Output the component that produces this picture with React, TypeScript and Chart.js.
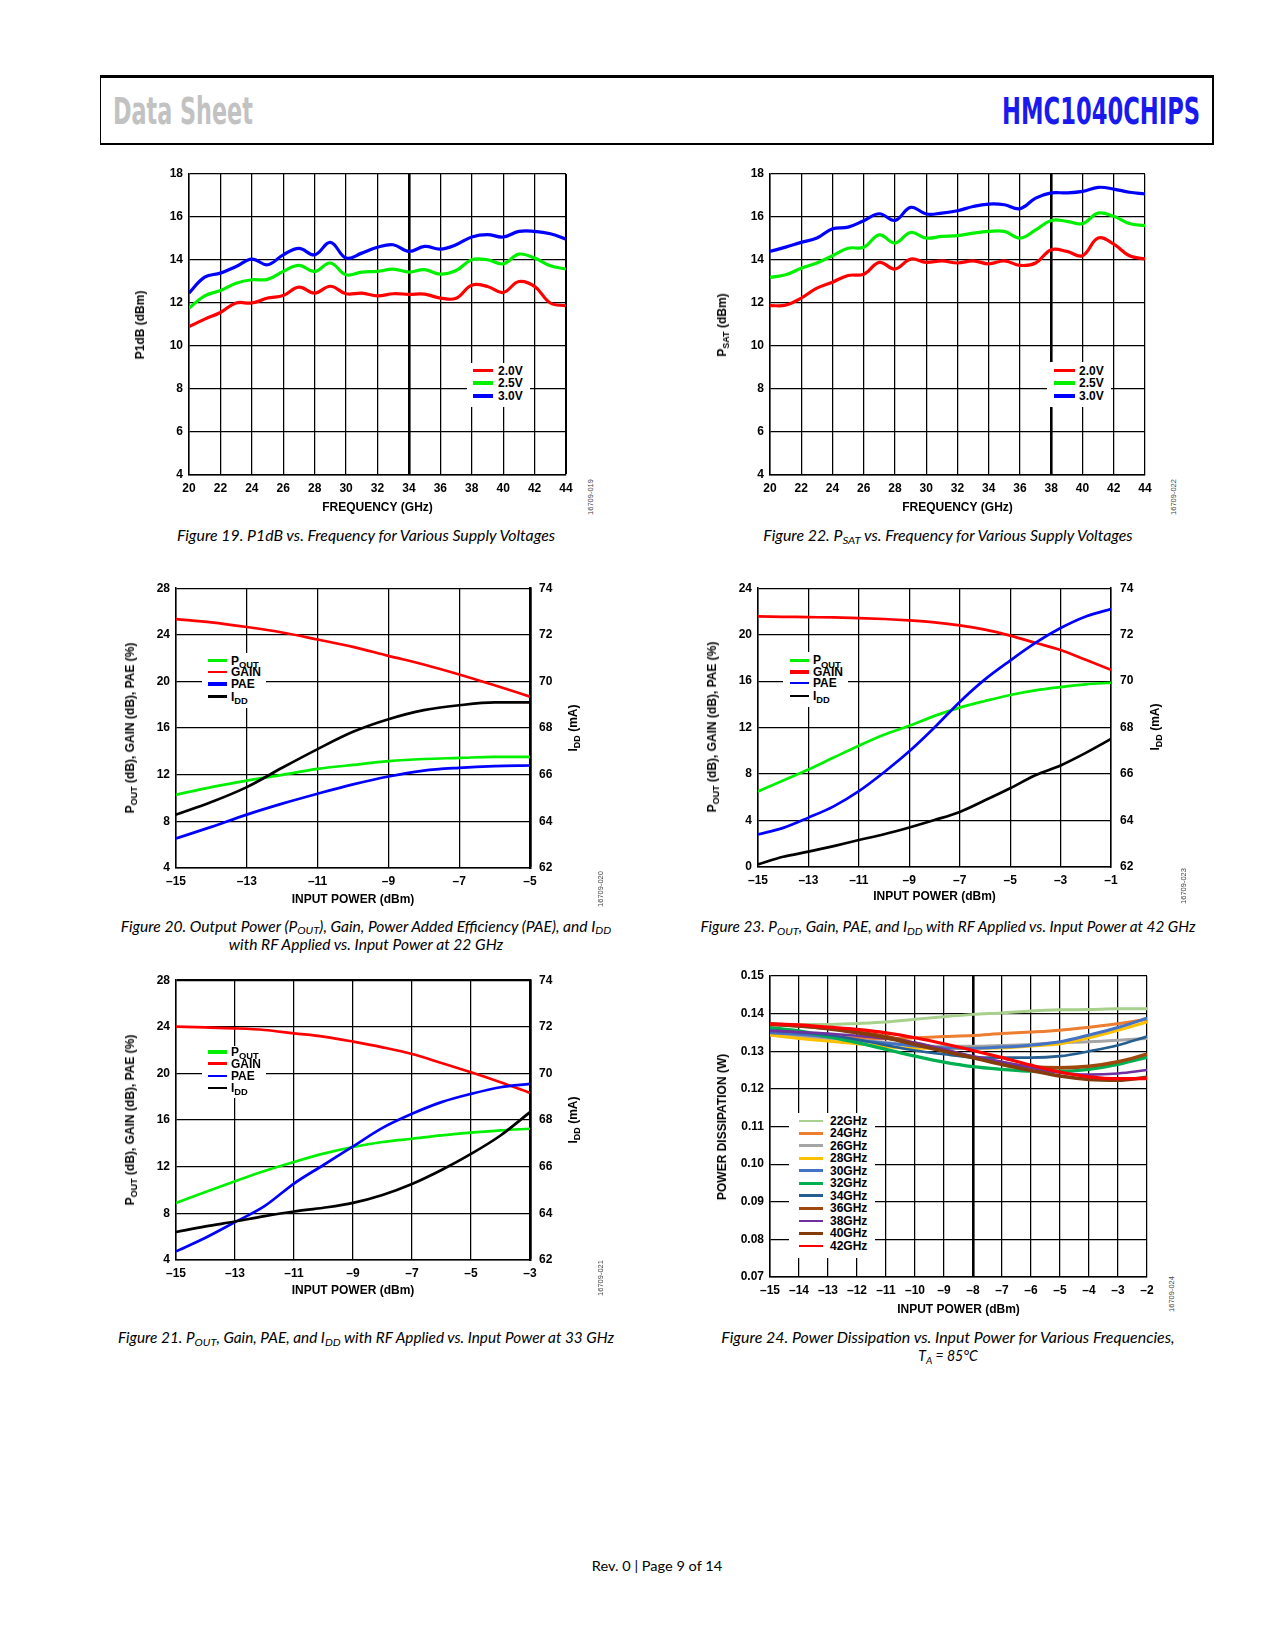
import React, { useEffect, useLayoutEffect, useRef } from "react";
import { Chart, registerables } from "chart.js";

Chart.register(...registerables);

const FONT = '"Liberation Sans", Arial, Helvetica, sans-serif';
Chart.defaults.font.family = FONT;
Chart.defaults.font.size = 12;
Chart.defaults.font.weight = "bold";
Chart.defaults.color = "#000";

// ---------------- DATA ----------------
// Figure 19 / 22: frequency sweeps
const FREQ_GHZ = [20, 21, 22, 23, 24, 25, 26, 27, 28, 29, 30, 31, 32, 33, 34, 35, 36, 37, 38, 39, 40, 41, 42, 43, 44];
const FREQ_TICKS = [20, 22, 24, 26, 28, 30, 32, 34, 36, 38, 40, 42, 44];
const DBM_TICKS = [4, 6, 8, 10, 12, 14, 16, 18];
const VOLT_LABELS = ["2.0V", "2.5V", "3.0V"];

const P1DB_2V0 = [10.9, 11.25, 11.56, 12.0, 12.0, 12.23, 12.35, 12.74, 12.46, 12.78, 12.43, 12.46, 12.33, 12.43, 12.4, 12.41, 12.23, 12.22, 12.83, 12.77, 12.49, 13.0, 12.77, 12.0, 11.87];
const P1DB_2V5 = [11.76, 12.33, 12.58, 12.92, 13.08, 13.1, 13.47, 13.75, 13.47, 13.86, 13.31, 13.44, 13.47, 13.58, 13.44, 13.55, 13.34, 13.51, 14.01, 14.01, 13.82, 14.27, 14.09, 13.73, 13.58];
const P1DB_3V0 = [12.46, 13.2, 13.39, 13.7, 14.04, 13.78, 14.24, 14.54, 14.24, 14.82, 14.09, 14.32, 14.59, 14.71, 14.4, 14.63, 14.51, 14.71, 15.07, 15.18, 15.07, 15.33, 15.33, 15.22, 14.97];

const PSAT_2V0 = [11.88, 11.9, 12.23, 12.69, 12.97, 13.28, 13.34, 13.89, 13.58, 14.04, 13.89, 13.96, 13.86, 13.96, 13.82, 13.96, 13.75, 13.86, 14.48, 14.4, 14.2, 15.02, 14.74, 14.2, 14.05];
const PSAT_2V5 = [13.19, 13.31, 13.62, 13.86, 14.2, 14.55, 14.59, 15.17, 14.79, 15.28, 15.02, 15.1, 15.13, 15.25, 15.33, 15.33, 15.02, 15.4, 15.84, 15.8, 15.69, 16.18, 16.03, 15.7, 15.6];
const PSAT_3V0 = [14.4, 14.6, 14.82, 15.02, 15.45, 15.53, 15.83, 16.15, 15.84, 16.45, 16.14, 16.18, 16.29, 16.49, 16.6, 16.57, 16.39, 16.88, 17.12, 17.12, 17.19, 17.38, 17.3, 17.15, 17.07];

// Figure 20: 22 GHz
const PIN_22 = [-15, -14, -13, -12, -11, -10, -9, -8, -7, -6, -5];
const PIN_22_TICKS = [-15, -13, -11, -9, -7, -5];
const GAIN_22 = [25.35, 25.07, 24.67, 24.2, 23.6, 22.97, 22.2, 21.46, 20.6, 19.67, 18.7];
const POUT_22 = [10.28, 10.94, 11.5, 11.99, 12.5, 12.84, 13.16, 13.35, 13.44, 13.53, 13.53];
const PAE_22 = [6.53, 7.53, 8.58, 9.52, 10.37, 11.17, 11.85, 12.36, 12.59, 12.73, 12.79];
const IDD_22 = [64.29, 64.83, 65.47, 66.3, 67.1, 67.84, 68.38, 68.77, 68.98, 69.1, 69.1];

// Figure 23: 42 GHz
const PIN_42 = [-15, -14, -13, -12, -11, -10, -9, -8, -7, -6, -5, -4, -3, -2, -1];
const PIN_42_TICKS = [-15, -13, -11, -9, -7, -5, -3, -1];
const GAIN_42 = [21.57, 21.54, 21.51, 21.48, 21.43, 21.35, 21.23, 21.06, 20.8, 20.43, 19.92, 19.3, 18.68, 17.84, 16.97];
const POUT_42 = [6.5, 7.45, 8.39, 9.42, 10.44, 11.38, 12.15, 13.01, 13.72, 14.29, 14.81, 15.21, 15.49, 15.72, 15.86];
const PAE_42 = [2.8, 3.37, 4.25, 5.22, 6.53, 8.16, 9.96, 12.01, 14.21, 16.15, 17.77, 19.29, 20.57, 21.57, 22.2];
const IDD_42 = [62.11, 62.44, 62.66, 62.9, 63.16, 63.41, 63.7, 64.02, 64.37, 64.87, 65.39, 65.95, 66.37, 66.91, 67.51];

// Figure 21: 33 GHz
const PIN_33 = [-15, -14, -13, -12, -11, -10, -9, -8, -7, -6, -5, -4, -3];
const PIN_33_TICKS = [-15, -13, -11, -9, -7, -5, -3];
const GAIN_33 = [24.01, 23.95, 23.87, 23.73, 23.44, 23.16, 22.73, 22.24, 21.67, 20.9, 20.1, 19.25, 18.34];
const POUT_33 = [8.9, 9.84, 10.76, 11.64, 12.41, 13.12, 13.69, 14.12, 14.4, 14.69, 14.92, 15.12, 15.26];
const PAE_33 = [4.74, 5.91, 7.25, 8.62, 10.56, 12.15, 13.74, 15.33, 16.54, 17.54, 18.25, 18.82, 19.11];
const IDD_33 = [63.2, 63.44, 63.65, 63.88, 64.08, 64.24, 64.45, 64.79, 65.26, 65.86, 66.55, 67.34, 68.34];

const LEFT_28_TICKS = [4, 8, 12, 16, 20, 24, 28];
const LEFT_24_TICKS = [0, 4, 8, 12, 16, 20, 24];
const IDD_TICKS = [62, 64, 66, 68, 70, 72, 74];
const PIN_LEGEND = [["P", "OUT"], ["GAIN", ""], ["PAE", ""], ["I", "DD"]];

// Figure 24: power dissipation, TA = 85 C
const PIN_PD = [-15, -14, -13, -12, -11, -10, -9, -8, -7, -6, -5, -4, -3, -2];
const PIN_PD_TICKS = [-15, -14, -13, -12, -11, -10, -9, -8, -7, -6, -5, -4, -3, -2];
const PD_TICKS = [0.07, 0.08, 0.09, 0.1, 0.11, 0.12, 0.13, 0.14, 0.15];
const PD_LABELS = ["22GHz", "24GHz", "26GHz", "28GHz", "30GHz", "32GHz", "34GHz", "36GHz", "38GHz", "40GHz", "42GHz"];
const PD_22 = [0.1371, 0.1371, 0.1371, 0.1374, 0.1378, 0.1385, 0.1392, 0.1398, 0.1402, 0.1407, 0.141, 0.1411, 0.1413, 0.1413];
const PD_24 = [0.1345, 0.1342, 0.1338, 0.1335, 0.1333, 0.1336, 0.1339, 0.1342, 0.1347, 0.1351, 0.1356, 0.1364, 0.1373, 0.1385];
const PD_26 = [0.1343, 0.1338, 0.1334, 0.1329, 0.1323, 0.1315, 0.1313, 0.1313, 0.1315, 0.1318, 0.1323, 0.1325, 0.1329, 0.1334];
const PD_28 = [0.1343, 0.1334, 0.1327, 0.132, 0.1312, 0.1308, 0.1308, 0.1308, 0.1309, 0.1314, 0.132, 0.1336, 0.1356, 0.1378];
const PD_30 = [0.1349, 0.1345, 0.1338, 0.1329, 0.1321, 0.1314, 0.1309, 0.1308, 0.1311, 0.1316, 0.1325, 0.1343, 0.1363, 0.1388];
const PD_32 = [0.1363, 0.1354, 0.1339, 0.1323, 0.1305, 0.1287, 0.1271, 0.1259, 0.1252, 0.1247, 0.1247, 0.1252, 0.1265, 0.1284];
const PD_34 = [0.1356, 0.135, 0.1343, 0.1331, 0.1316, 0.1302, 0.1292, 0.1284, 0.1283, 0.1283, 0.1287, 0.13, 0.1316, 0.1339];
const PD_36 = [0.1371, 0.1367, 0.1361, 0.1351, 0.1339, 0.1321, 0.1303, 0.1284, 0.1269, 0.1259, 0.1256, 0.126, 0.1272, 0.1292];
const PD_38 = [0.1354, 0.1351, 0.1347, 0.1341, 0.1334, 0.1323, 0.1305, 0.1287, 0.1272, 0.1256, 0.1243, 0.1238, 0.1241, 0.125];
const PD_40 = [0.1373, 0.1367, 0.136, 0.1349, 0.1336, 0.1318, 0.13, 0.1283, 0.1265, 0.1249, 0.1234, 0.1225, 0.1223, 0.1231];
const PD_42 = [0.1373, 0.137, 0.1364, 0.1358, 0.1349, 0.1336, 0.132, 0.1302, 0.1283, 0.1263, 0.1245, 0.1232, 0.1227, 0.1227];

// ---------------- STYLE ----------------
const RED = "#ff0000";
const GREEN = "#00f000";
const BLUE = "#0000ff";
const BLACK = "#000000";
const PD_COLORS = ["#a9d18e", "#ed7d31", "#a5a5a5", "#ffc000", "#4472c4", "#00b050", "#255e91", "#9e480e", "#7030a0", "#843c0c", "#ff0000"];
const PD_LINE_W = [3, 3, 3, 3, 3, 3.2, 2.6, 3.6, 2.6, 3.6, 3.2];
const PD_LEG_W = [2, 3.4, 3.4, 3.4, 2.8, 3.4, 2.8, 3.4, 2.8, 2.8, 2];

const LY = 45;
const PT = 15;
const GW = 1.25;

type Series = { x: number[]; y: number[]; color: string; width: number; axis?: string };
type Spec = {
  L: number; T: number; R: number; B: number; Bb: number; Rr: number;
  xMin: number; xMax: number; xTicks: number[]; xTitle: string;
  yMin: number; yMax: number; yTicks: number[]; yDec?: number;
  y1?: { min: number; max: number; ticks: number[] };
  thickX?: number; rightW?: number; topW?: number; mono?: boolean;
  series: Series[];
};

const near = (a: number, b: number) => Math.abs(a - b) < 1e-6;
const fmtSigned = (v: number) => (v < 0 ? "\u2013" + Math.abs(v) : String(v));
const setTicks = (vals: number[]) => (sc: any) => {
  sc.ticks = vals.map((v) => ({ value: v }));
};

function buildConfig(s: Spec): any {
  const tickFont = { family: FONT, size: 12, weight: "bold" };
  const scales: any = {
    x: {
      type: "linear",
      min: s.xMin,
      max: s.xMax,
      afterBuildTicks: setTicks(s.xTicks),
      afterFit: (sc: any) => {
        sc.height = s.Bb;
      },
      ticks: { padding: 6, autoSkip: false, maxRotation: 0, minRotation: 0, color: "#000", font: tickFont, callback: (v: any) => fmtSigned(Number(v)) },
      grid: {
        color: "#000",
        drawTicks: false,
        lineWidth: (c: any) => {
          const v = c.tick ? c.tick.value : NaN;
          if (s.thickX !== undefined && near(v, s.thickX)) return 2.6;
          if (near(v, s.xMax)) return s.rightW ?? GW;
          return GW;
        },
      },
      border: { display: true, color: "#000", width: 1.5 },
      title: { display: true, text: s.xTitle, color: "#000", padding: 0, font: { family: FONT, size: 12, weight: "bold" } },
    },
    y: {
      type: "linear",
      position: "left",
      min: s.yMin,
      max: s.yMax,
      afterBuildTicks: setTicks(s.yTicks),
      afterFit: (sc: any) => {
        sc.width = LY;
      },
      ticks: { padding: 6, autoSkip: false, color: "#000", font: tickFont, callback: (v: any) => (s.yDec ? Number(v).toFixed(s.yDec) : String(v)) },
      grid: {
        color: "#000",
        drawTicks: false,
        lineWidth: (c: any) => {
          const v = c.tick ? c.tick.value : NaN;
          if (near(v, s.yMax)) return s.topW ?? GW;
          return GW;
        },
      },
      border: { display: true, color: "#000", width: 1.5 },
    },
  };
  if (s.y1) {
    scales.y1 = {
      type: "linear",
      position: "right",
      min: s.y1.min,
      max: s.y1.max,
      afterBuildTicks: setTicks(s.y1.ticks),
      afterFit: (sc: any) => {
        sc.width = s.Rr;
      },
      ticks: { padding: 9, autoSkip: false, color: "#000", font: tickFont, callback: (v: any) => String(v) },
      grid: { display: false, drawTicks: false },
      border: { display: true, color: "#000", width: s.rightW ?? 1.5 },
    };
  }
  return {
    type: "line",
    data: {
      datasets: s.series.map((se, i) => ({
        data: se.x.map((x, j) => ({ x, y: se.y[j] })),
        borderColor: se.color,
        backgroundColor: se.color,
        borderWidth: se.width,
        pointRadius: 0,
        tension: 0.4,
        cubicInterpolationMode: s.mono ? "monotone" : "default",
        fill: false,
        yAxisID: se.axis || "y",
        order: -i,
      })),
    },
    options: {
      responsive: false,
      animation: false,
      events: [],
      layout: { padding: { top: PT, right: s.y1 ? 0 : s.Rr, bottom: 0, left: 0 } },
      plugins: { legend: { display: false }, tooltip: { enabled: false }, title: { display: false } },
      scales,
    },
  };
}

function PlotCanvas({ spec }: { spec: Spec }) {
  const ref = useRef<HTMLCanvasElement>(null);
  const W = spec.R - spec.L + LY + spec.Rr;
  const H = spec.B - spec.T + PT + spec.Bb;
  useEffect(() => {
    const chart = new Chart(ref.current as HTMLCanvasElement, buildConfig(spec));
    return () => chart.destroy();
  }, []);
  return <canvas ref={ref} width={W} height={H} style={{ position: "absolute", left: spec.L - LY, top: spec.T - PT, width: W, height: H }} />;
}

// ---------------- CHART SPECS ----------------
const SPEC19: Spec = {
  L: 189, T: 174, R: 566, B: 475, Bb: 40, Rr: 15,
  xMin: 20, xMax: 44, xTicks: FREQ_TICKS, xTitle: "FREQUENCY (GHz)",
  yMin: 4, yMax: 18, yTicks: DBM_TICKS, thickX: 34, rightW: 2,
  series: [
    { x: FREQ_GHZ, y: P1DB_2V0, color: RED, width: 3.2 },
    { x: FREQ_GHZ, y: P1DB_2V5, color: GREEN, width: 3.2 },
    { x: FREQ_GHZ, y: P1DB_3V0, color: BLUE, width: 3.2 },
  ],
};
const SPEC22: Spec = {
  L: 770, T: 174, R: 1145, B: 475, Bb: 40, Rr: 15,
  xMin: 20, xMax: 44, xTicks: FREQ_TICKS, xTitle: "FREQUENCY (GHz)",
  yMin: 4, yMax: 18, yTicks: DBM_TICKS, thickX: 38,
  series: [
    { x: FREQ_GHZ, y: PSAT_2V0, color: RED, width: 3.2 },
    { x: FREQ_GHZ, y: PSAT_2V5, color: GREEN, width: 3.2 },
    { x: FREQ_GHZ, y: PSAT_3V0, color: BLUE, width: 3.2 },
  ],
};
const SPEC20: Spec = {
  L: 176, T: 587, R: 530, B: 868, Bb: 39, Rr: 45, mono: true,
  xMin: -15, xMax: -5, xTicks: PIN_22_TICKS, xTitle: "INPUT POWER (dBm)",
  yMin: 4, yMax: 28, yTicks: LEFT_28_TICKS, y1: { min: 62, max: 74, ticks: IDD_TICKS }, rightW: 2.5,
  series: [
    { x: PIN_22, y: POUT_22, color: GREEN, width: 2.7 },
    { x: PIN_22, y: GAIN_22, color: RED, width: 2.7 },
    { x: PIN_22, y: PAE_22, color: BLUE, width: 2.7 },
    { x: PIN_22, y: IDD_22, color: BLACK, width: 2.7, axis: "y1" },
  ],
};
const SPEC23: Spec = {
  L: 758, T: 587, R: 1111, B: 867, Bb: 37, Rr: 45, mono: true,
  xMin: -15, xMax: -1, xTicks: PIN_42_TICKS, xTitle: "INPUT POWER (dBm)",
  yMin: 0, yMax: 24, yTicks: LEFT_24_TICKS, y1: { min: 62, max: 74, ticks: IDD_TICKS },
  series: [
    { x: PIN_42, y: POUT_42, color: GREEN, width: 2.7 },
    { x: PIN_42, y: GAIN_42, color: RED, width: 2.7 },
    { x: PIN_42, y: PAE_42, color: BLUE, width: 2.7 },
    { x: PIN_42, y: IDD_42, color: BLACK, width: 2.7, axis: "y1" },
  ],
};
const SPEC21: Spec = {
  L: 176, T: 979, R: 530, B: 1260, Bb: 38, Rr: 45, mono: true,
  xMin: -15, xMax: -3, xTicks: PIN_33_TICKS, xTitle: "INPUT POWER (dBm)",
  yMin: 4, yMax: 28, yTicks: LEFT_28_TICKS, y1: { min: 62, max: 74, ticks: IDD_TICKS }, rightW: 2.5, topW: 2.2,
  series: [
    { x: PIN_33, y: POUT_33, color: GREEN, width: 2.7 },
    { x: PIN_33, y: GAIN_33, color: RED, width: 2.7 },
    { x: PIN_33, y: PAE_33, color: BLUE, width: 2.7 },
    { x: PIN_33, y: IDD_33, color: BLACK, width: 2.7, axis: "y1" },
  ],
};
const PD_SERIES = [PD_22, PD_24, PD_26, PD_28, PD_30, PD_32, PD_34, PD_36, PD_38, PD_40, PD_42];
const SPEC24: Spec = {
  L: 770, T: 976, R: 1147, B: 1277, Bb: 40, Rr: 15, mono: true,
  xMin: -15, xMax: -2, xTicks: PIN_PD_TICKS, xTitle: "INPUT POWER (dBm)",
  yMin: 0.07, yMax: 0.15, yTicks: PD_TICKS, yDec: 2, thickX: -8,
  series: PD_SERIES.map((y, i) => ({ x: PIN_PD, y, color: PD_COLORS[i], width: PD_LINE_W[i] })),
};

// ---------------- HTML TEXT HELPERS ----------------
const Sub = ({ c, k = 0.75, dy = "0.32em" }: { c: string; k?: number; dy?: string }) => (
  <span style={{ fontSize: k + "em", position: "relative", top: dy }}>{c}</span>
);

function VTitle({ x, y, children, size = 12, color = "#000", weight = "bold", family = FONT }: any) {
  return (
    <div
      style={{
        position: "absolute",
        left: x,
        top: y,
        transform: "translate(-50%,-50%) rotate(-90deg)",
        whiteSpace: "nowrap",
        fontFamily: family,
        fontSize: size,
        fontWeight: weight,
        lineHeight: 1,
        color,
      }}
    >
      {children}
    </div>
  );
}

function FitText({ x, y, w, anchor = "center", family, size, weight = "normal", italic = false, color = "#000", clamp = [0.88, 1.12], children }: any) {
  const ref = useRef<HTMLDivElement>(null);
  const base = anchor === "center" ? "translate(-50%,-50%)" : "translateY(-50%)";
  useLayoutEffect(() => {
    const el = ref.current;
    if (!el) return;
    const fit = () => {
      const nat = el.offsetWidth;
      let k = nat > 0 && w ? w / nat : 1;
      k = Math.max(clamp[0], Math.min(clamp[1], k));
      el.style.transform = base + " scaleX(" + k + ")";
    };
    fit();
    const f: any = (document as any).fonts;
    if (f && f.ready) f.ready.then(fit);
  }, []);
  const pos: any = anchor === "right" ? { right: 1275 - x } : { left: x };
  return (
    <div
      ref={ref}
      style={{
        position: "absolute",
        ...pos,
        top: y,
        transform: base,
        transformOrigin: anchor === "left" ? "left center" : anchor === "right" ? "right center" : "center center",
        whiteSpace: "nowrap",
        fontFamily: family,
        fontSize: size,
        fontWeight: weight,
        fontStyle: italic ? "italic" : "normal",
        lineHeight: 1,
        color,
      }}
    >
      {children}
    </div>
  );
}

type LegendRow = { y: number; color: string; w: number; label: any };
function Legend({ box, lx, tx, rows }: { box: number[]; lx: number[]; tx: number; rows: LegendRow[] }) {
  return (
    <>
      <div style={{ position: "absolute", left: box[0], top: box[1], width: box[2] - box[0], height: box[3] - box[1], background: "#fff" }} />
      {rows.map((r, i) => (
        <React.Fragment key={i}>
          <div style={{ position: "absolute", left: lx[0], top: r.y - r.w / 2, width: lx[1] - lx[0], height: r.w, background: r.color }} />
          <div style={{ position: "absolute", left: tx, top: r.y, transform: "translateY(-50%)", fontFamily: FONT, fontSize: 12, fontWeight: "bold", lineHeight: 1, whiteSpace: "nowrap" }}>
            {r.label}
          </div>
        </React.Fragment>
      ))}
    </>
  );
}

const pinLabel = (pair: string[]) => (
  <span>
    {pair[0]}
    {pair[1] ? <Sub c={pair[1]} k={0.78} dy="0.35em" /> : null}
  </span>
);

const CAP_FONT = 'Lato, "Open Sans", sans-serif';

function Caption({ x, y, w, children }: any) {
  return (
    <FitText x={x} y={y} w={w} family={CAP_FONT} size={14.5} italic>
      {children}
    </FitText>
  );
}

function FigId({ x, y, text }: any) {
  return (
    <VTitle x={x} y={y} size={7.5} weight="normal" color="#444">
      {text}
    </VTitle>
  );
}

const VOLT_COLORS = [RED, GREEN, BLUE];
const VOLT_ROWS_Y = [370.7, 383, 396];
const PIN_COLORS = [GREEN, RED, BLUE, BLACK];

export default function App() {
  const leftTitle = (
    <>
      P<Sub c="OUT" /> (dB), GAIN (dB), PAE (%)
    </>
  );
  const rightTitle = (
    <>
      I<Sub c="DD" /> (mA)
    </>
  );
  return (
    <div style={{ position: "absolute", left: 0, top: 0, width: 1275, height: 1650, background: "#fff", overflow: "hidden" }}>
      {/* Header */}
      <div
        style={{
          position: "absolute",
          left: 100,
          top: 75,
          width: 1114,
          height: 70,
          boxSizing: "border-box",
          borderTop: "3px solid #000",
          borderLeft: "1.5px solid #000",
          borderRight: "2px solid #000",
          borderBottom: "2px solid #000",
        }}
      />
      <FitText x={113} y={111} w={140} anchor="left" family={'"Liberation Sans Narrow", "DejaVu Sans Condensed", "DejaVu Sans", sans-serif'} size={37} weight="bold" color="#c2c2c2" clamp={[0.4, 1.5]}>
        Data Sheet
      </FitText>
      <FitText x={1200} y={111} w={198} anchor="right" family={'"Liberation Sans Narrow", "DejaVu Sans Condensed", "DejaVu Sans", sans-serif'} size={37} weight="bold" color="#1a1aee" clamp={[0.4, 1.5]}>
        HMC1040CHIPS
      </FitText>

      {/* Figure 19 */}
      <PlotCanvas spec={SPEC19} />
      <VTitle x={140} y={324.5}>P1dB (dBm)</VTitle>
      <Legend
        box={[467, 363, 530, 407]}
        lx={[473, 493]}
        tx={498}
        rows={VOLT_LABELS.map((l, i) => ({ y: VOLT_ROWS_Y[i], color: VOLT_COLORS[i], w: 3.5, label: l }))}
      />
      <FigId x={591} y={497} text="16709-019" />
      <Caption x={366} y={536} w={378}>
        Figure 19. P1dB vs. Frequency for Various Supply Voltages
      </Caption>

      {/* Figure 22 */}
      <PlotCanvas spec={SPEC22} />
      <VTitle x={721.7} y={324.5}>
        P<Sub c="SAT" /> (dBm)
      </VTitle>
      <Legend
        box={[1047, 362, 1111, 407]}
        lx={[1054, 1075]}
        tx={1079}
        rows={VOLT_LABELS.map((l, i) => ({ y: VOLT_ROWS_Y[i], color: VOLT_COLORS[i], w: 3.5, label: l }))}
      />
      <FigId x={1174} y={497} text="16709-022" />
      <Caption x={948} y={536} w={369}>
        Figure 22. P<Sub c="SAT" k={0.72} dy="0.25em" /> vs. Frequency for Various Supply Voltages
      </Caption>

      {/* Figure 20 */}
      <PlotCanvas spec={SPEC20} />
      <VTitle x={130} y={727.5}>{leftTitle}</VTitle>
      <VTitle x={573} y={727.5}>{rightTitle}</VTitle>
      <Legend
        box={[202, 653, 266, 708]}
        lx={[208, 227]}
        tx={231}
        rows={PIN_LEGEND.map((p, i) => ({ y: [660.5, 672, 684, 696.5][i], color: PIN_COLORS[i], w: [2.2, 2.2, 3.5, 3.5][i], label: pinLabel(p) }))}
      />
      <FigId x={601} y={889} text="16709-020" />
      <Caption x={366} y={926.5} w={491}>
        Figure 20. Output Power (P<Sub c="OUT" k={0.72} dy="0.25em" />), Gain, Power Added Efficiency (PAE), and I<Sub c="DD" k={0.72} dy="0.25em" />
      </Caption>
      <Caption x={366} y={944.7} w={274}>
        with RF Applied vs. Input Power at 22 GHz
      </Caption>

      {/* Figure 23 */}
      <PlotCanvas spec={SPEC23} />
      <VTitle x={711.7} y={727}>{leftTitle}</VTitle>
      <VTitle x={1155} y={727}>{rightTitle}</VTitle>
      <Legend
        box={[783, 652, 848, 707]}
        lx={[790, 809]}
        tx={813}
        rows={PIN_LEGEND.map((p, i) => ({ y: [660.3, 672, 683, 696][i], color: PIN_COLORS[i], w: [3.5, 3.5, 2.2, 2.2][i], label: pinLabel(p) }))}
      />
      <FigId x={1183.5} y={886} text="16709-023" />
      <Caption x={948} y={927} w={495}>
        Figure 23. P<Sub c="OUT" k={0.72} dy="0.25em" />, Gain, PAE, and I<Sub c="DD" k={0.72} dy="0.25em" /> with RF Applied vs. Input Power at 42 GHz
      </Caption>

      {/* Figure 21 */}
      <PlotCanvas spec={SPEC21} />
      <VTitle x={130} y={1119.5}>{leftTitle}</VTitle>
      <VTitle x={573} y={1119.5}>{rightTitle}</VTitle>
      <Legend
        box={[202, 1046, 266, 1098]}
        lx={[208, 227]}
        tx={231}
        rows={PIN_LEGEND.map((p, i) => ({ y: [1052, 1063.7, 1075.7, 1088][i], color: PIN_COLORS[i], w: [3.5, 3.5, 2.2, 2.2][i], label: pinLabel(p) }))}
      />
      <FigId x={601} y={1278} text="16709-021" />
      <Caption x={366} y={1338} w={496}>
        Figure 21. P<Sub c="OUT" k={0.72} dy="0.25em" />, Gain, PAE, and I<Sub c="DD" k={0.72} dy="0.25em" /> with RF Applied vs. Input Power at 33 GHz
      </Caption>

      {/* Figure 24 */}
      <PlotCanvas spec={SPEC24} />
      <VTitle x={721.7} y={1126.5}>POWER DISSIPATION (W)</VTitle>
      <Legend
        box={[789, 1113, 875, 1258]}
        lx={[799, 823]}
        tx={830}
        rows={PD_LABELS.map((l, i) => ({ y: 1120.7 + 12.53 * i, color: PD_COLORS[i], w: PD_LEG_W[i], label: l }))}
      />
      <FigId x={1172} y={1294} text="16709-024" />
      <Caption x={948} y={1338} w={453}>
        Figure 24. Power Dissipation vs. Input Power for Various Frequencies,
      </Caption>
      <Caption x={948} y={1356} w={60}>
        T<Sub c="A" k={0.72} dy="0.25em" /> = 85°C
      </Caption>

      {/* Footer */}
      <FitText x={657} y={1566} w={130} family={CAP_FONT} size={13}>
        Rev. 0 | Page 9 of 14
      </FitText>
    </div>
  );
}
